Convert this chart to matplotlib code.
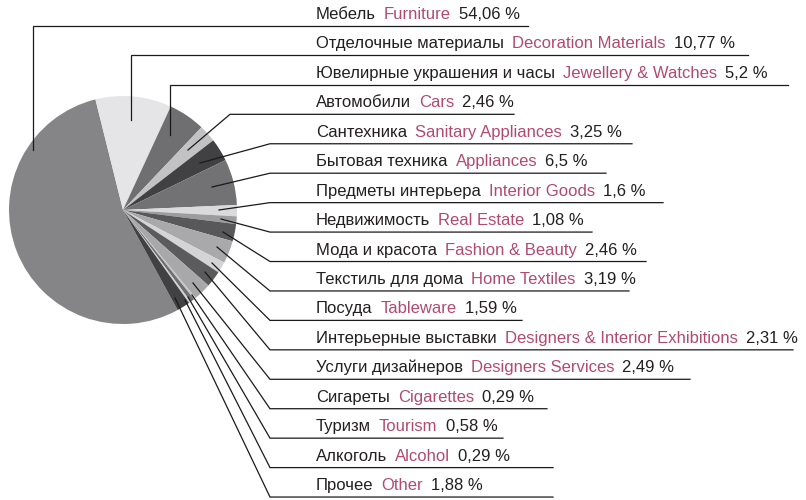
import numpy as np
import matplotlib.pyplot as plt

plt.rcParams['font.family'] = ['Liberation Sans', 'DejaVu Sans']

# categories, listed from the largest slice and then clockwise around the pie
names_ru = ['Мебель', 'Отделочные материалы', 'Ювелирные украшения и часы',
            'Автомобили', 'Сантехника', 'Бытовая техника', 'Предметы интерьера',
            'Недвижимость', 'Мода и красота', 'Текстиль для дома', 'Посуда',
            'Интерьерные выставки', 'Услуги дизайнеров', 'Сигареты', 'Туризм',
            'Алкоголь', 'Прочее']
names_en = ['Furniture', 'Decoration Materials', 'Jewellery & Watches', 'Cars',
            'Sanitary Appliances', 'Appliances', 'Interior Goods', 'Real Estate',
            'Fashion & Beauty', 'Home Textiles', 'Tableware',
            'Designers & Interior Exhibitions', 'Designers Services', 'Cigarettes',
            'Tourism', 'Alcohol', 'Other']
shares = [54.06, 10.77, 5.2, 2.46, 3.25, 6.5, 1.6, 1.08, 2.46, 3.19, 1.59,
          2.31, 2.49, 0.29, 0.58, 0.29, 1.88]

colors = ['#858588', '#e5e5e7', '#6f6f71', '#c2c2c4', '#414143', '#727274',
          '#dadadc', '#9c9c9e', '#58585a', '#a9a9ab', '#d4d4d6', '#5b5b5d',
          '#a8a8aa', '#c4c4c6', '#6f6f71', '#d0d0d2', '#414143']

W, H = 806, 500
CX, CY, R = 123, 210, 114

# leader lines: start point in the slice, elbow, end of the underline (pixels)
starts = [(33, 150), (131, 120), (170, 135), (188, 150), (200, 163), (212, 187),
          (219, 210), (221, 219), (223, 232), (217, 247), (212, 263), (205, 272),
          (193, 283), (192, 295), (188, 297), (185, 300), (175, 298)]
elbow_x = [33, 131, 170, 230, 270, 270, 270, 270, 270, 270, 270, 270, 270,
           270, 270, 270, 270]
line_end = [528, 748, 788, 514, 632, 606, 663, 592, 646, 629, 522, 793, 690,
            547, 503, 553, 553]

fig = plt.figure(figsize=(W / 100, H / 100), dpi=100)
ax = fig.add_axes([0, 0, 1, 1])

ax.pie(shares, colors=colors, counterclock=False,
       startangle=104 + 360 * shares[0] / 100,
       center=(CX, H - CY), radius=R, wedgeprops=dict(linewidth=0))
ax.set_xlim(0, W)
ax.set_ylim(0, H)
ax.set_aspect('equal')
ax.axis('off')

renderer = fig.canvas.get_renderer()
row0, step = 26, 29.44
for i in range(len(shares)):
    uy = row0 + step * i
    sx, sy = starts[i]
    ex = elbow_x[i]
    xs = [sx, ex, line_end[i]]
    ys = [H - sy, H - uy, H - uy]
    ax.plot(xs, ys, color='#1a1a1a', lw=0.9, solid_joinstyle='miter')

    by = H - uy + 7
    x = 316
    parts = [(names_ru[i], '#231f20'), (names_en[i], '#b24a6e'),
             (('%g' % shares[i]).replace('.', ',') + ' %', '#231f20')]
    for txt, col in parts:
        t = ax.text(x, by, txt, color=col, fontsize=12, va='baseline', ha='left')
        x = t.get_window_extent(renderer=renderer).x1 + 8

fig.savefig('out.png', dpi=100)
